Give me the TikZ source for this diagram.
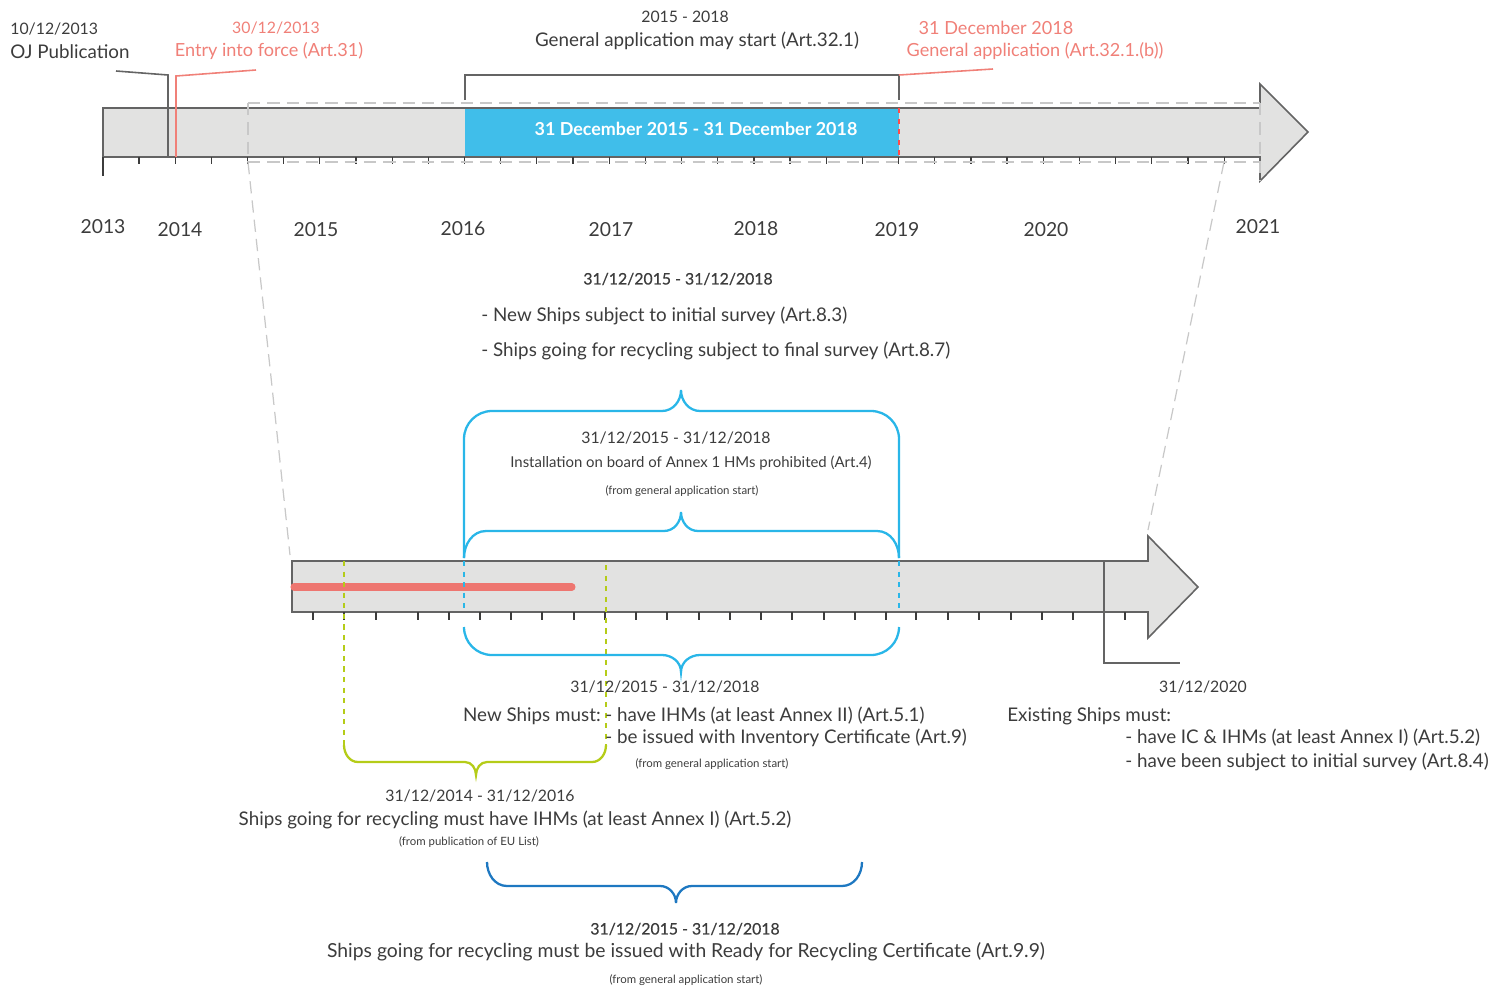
\documentclass[tikz,border=0pt]{standalone}
\usepackage{fontspec}
\setmainfont{Lato}
\definecolor{txtgray}{RGB}{60, 60, 60}
\definecolor{linegray}{RGB}{100, 100, 100}
\definecolor{barfill}{RGB}{226, 226, 225}
\definecolor{dashgray}{RGB}{200, 200, 200}
\definecolor{salmon}{RGB}{240, 128, 120}
\definecolor{redbar}{RGB}{238, 118, 112}
\definecolor{appblue}{RGB}{64, 190, 234}
\definecolor{bracecyan}{RGB}{41, 182, 232}
\definecolor{bracedark}{RGB}{30, 120, 193}
\definecolor{limegreen}{RGB}{181, 204, 24}
\usetikzlibrary{calc}

\begin{document}
\begin{tikzpicture}[x=0.02cm, y=-0.02cm,
  lbl/.style={font=\fontsize{10.7}{12}\selectfont, text=txtgray, inner sep=0pt},
  redlbl/.style={font=\fontsize{10.3}{12}\selectfont, text=salmon, inner sep=0pt},
  datelbl/.style={font=\fontsize{9}{11}\selectfont, text=txtgray, inner sep=0pt},
  reddate/.style={font=\fontsize{9}{11}\selectfont, text=salmon, inner sep=0pt},
  boldspan/.style={font=\fontsize{9}{11}\selectfont\addfontfeature{FakeBold=0.6}, text=txtgray, inner sep=0pt},
  smalllbl/.style={font=\fontsize{8.5}{10}\selectfont, text=txtgray, inner sep=0pt},
  tinylbl/.style={font=\fontsize{6.5}{8}\selectfont, text=txtgray, inner sep=0pt},
  yearlbl/.style={font=\fontsize{11}{13}\selectfont, text=txtgray, inner sep=0pt},
  axis/.style={draw=linegray, line width=0.9pt, fill=barfill},
  tick/.style={draw=txtgray, line width=0.7pt},
  leader/.style={draw=linegray, line width=0.9pt},
  redleader/.style={draw=salmon, line width=0.9pt},
  zoomline/.style={draw=dashgray, dashed, dash pattern=on 7pt off 4pt, line width=0.7pt},
  cyanbrace/.style={draw=bracecyan, line width=1.3pt},
  darkbrace/.style={draw=bracedark, line width=1.3pt},
  greenbrace/.style={draw=limegreen, line width=1.3pt}]

  \useasboundingbox (0,0) rectangle (1504,987);

  % Top timeline
  \draw[axis] (103,108) -- (1260,108) -- (1260,84) -- (1308,132) -- (1260,181) -- (1260,157) -- (103,157) -- cycle;
  \fill[appblue] (465,108) rectangle (899,157);
  \draw[linegray, line width=0.9pt] (465,108) -- (899,108) (465,157) -- (899,157);
  \draw[red!70, dashed, line width=0.6pt] (899,108) -- (899,157);
  \node[font=\fontsize{10.2}{12}\selectfont\bfseries, text=white] (appspan) at (696,129) {31 December 2015 - 31 December 2018};
  \draw[tick] (103,157) -- (103,176);
  \foreach \i in {0,...,30}
    \draw[tick] ({139+36.17*\i},157) -- ({139+36.17*\i},164);

  % Zoomed window
  \draw[zoomline] (248,103) -- (1260,103) (248,162) -- (1260,162) (248,103) -- (248,162) (1260,103) -- (1260,181);
  \coordinate (zoomL) at (248,162);
  \coordinate (zoomR) at (1224,162);
  \coordinate (lowL) at (290,555);
  \coordinate (lowR) at (1148,530);
  \draw[zoomline] (zoomL) -- (lowL);
  \draw[zoomline] (zoomR) -- (lowR);

  % Years
  \node[yearlbl] (y2013) at (103,227) {2013};
  \node[yearlbl] (y2014) at (180,230) {2014};
  \node[yearlbl] (y2015) at (316,230) {2015};
  \node[yearlbl] (y2016) at (463,229) {2016};
  \node[yearlbl] (y2017) at (611,230) {2017};
  \node[yearlbl] (y2018) at (756,229) {2018};
  \node[yearlbl] (y2019) at (897,230) {2019};
  \node[yearlbl] (y2020) at (1046,230) {2020};
  \node[yearlbl] (y2021) at (1258,227) {2021};

  % Milestones above
  \node[datelbl, anchor=west] (ojdate) at (10,29) {10/12/2013};
  \node[lbl, anchor=west] (ojpub) at (10,52) {OJ Publication};
  \node[reddate] (forcedate) at (276,28) {30/12/2013};
  \node[redlbl] (force) at (269,51) {Entry into force (Art.31)};
  \node[datelbl] (mayspan) at (685,17) {2015 - 2018};
  \node[lbl] (may) at (697,41) {General application may start (Art.32.1)};
  \node[redlbl] (gendate) at (996,28) {31 December 2018};
  \node[redlbl] (gen) at (1035,51) {General application (Art.32.1.(b))};

  \coordinate (ojend) at (116,71);
  \coordinate (forceend) at (256,70);
  \coordinate (genend) at (993,69);
  \draw[leader] (ojend) -- (168,75) -- (168,157);
  \draw[redleader] (forceend) -- (176,76) -- (176,157);
  \draw[leader] (465,100) -- (465,75) -- (899,75) -- (899,100);
  \draw[redleader] (899,75) -- (genend);

  % Middle text
  \node[boldspan] (midspan) at (678,279) {31/12/2015 - 31/12/2018};
  \node[lbl, anchor=west] (initial) at (481,316) {- New Ships subject to initial survey (Art.8.3)};
  \node[lbl, anchor=west] (final) at (481,351) {- Ships going for recycling subject to final survey (Art.8.7)};

  % Lower timeline
  \draw[axis] (292,561) -- (1148,561) -- (1148,536) -- (1198,587) -- (1148,638) -- (1148,612) -- (292,612) -- cycle;
  \draw[line cap=round, draw=redbar, line width=4pt] (294,587) -- (572,587);
  \foreach \t in {313,344,376,418,449,480,511,542,574,605,636,667,699,730,761,792,824,855,886,916,948,979,1011,1042,1073,1104,1125}
    \draw[tick] (\t,612) -- (\t,620);
  \draw[leader] (1104,561) -- (1104,663) -- (1180,663);
  \draw[bracecyan, dashed, line width=0.8pt] (464,561) -- (464,612) (899,561) -- (899,612);
  \draw[limegreen, dashed, line width=0.8pt] (344,561) -- (344,745) (606,565) -- (606,745);

  % Braces around lower timeline
  \draw[cyanbrace] (464,558) -- (464,439) to[out=90,in=180] (492,411) -- (662,411)
    to[out=0,in=-90] (681,390) to[out=-90,in=180] (700,411) -- (871,411)
    to[out=0,in=90] (899,439) -- (899,558);
  \draw[cyanbrace] (464,558) to[out=90,in=180] (486,531) -- (664,531)
    to[out=0,in=-90] (681,512) to[out=-90,in=180] (698,531) -- (877,531)
    to[out=0,in=90] (899,558);
  \draw[cyanbrace] (464,627) to[out=-90,in=180] (492,655) -- (662,655)
    to[out=0,in=90] (681,672) to[out=90,in=180] (700,655) -- (871,655)
    to[out=0,in=-90] (899,627);
  \draw[greenbrace] (344,745) to[out=-90,in=180] (358,762) -- (465,762)
    to[out=0,in=90] (476,775) to[out=90,in=180] (487,762) -- (592,762)
    to[out=0,in=-90] (606,745);
  \draw[darkbrace] (487,862) to[out=-90,in=180] (507,886) -- (660,886)
    to[out=0,in=90] (676,903) to[out=90,in=180] (692,886) -- (842,886)
    to[out=0,in=-90] (862,862);

  % Installation block
  \node[datelbl] (instspan) at (676,438) {31/12/2015 - 31/12/2018};
  \node[smalllbl] (inst) at (691,463) {Installation on board of Annex 1 HMs prohibited (Art.4)};
  \node[tinylbl] (instnote) at (682,491) {(from general application start)};

  % New ships block
  \node[datelbl] (newspan) at (665,687) {31/12/2015 - 31/12/2018};
  \node[lbl, anchor=east] (newships) at (601,716) {New Ships must:};
  \node[lbl, anchor=west] (newihm) at (605,716) {- have IHMs (at least Annex II) (Art.5.1)};
  \node[lbl, anchor=west] (newic) at (605,738) {- be issued with Inventory Certificate (Art.9)};
  \node[tinylbl] (newnote) at (712,764) {(from general application start)};

  % Recycling IHM block
  \node[datelbl] (recspan) at (480,796) {31/12/2014 - 31/12/2016};
  \node[lbl] (recihm) at (515,820) {Ships going for recycling must have IHMs (at least Annex I) (Art.5.2)};
  \node[tinylbl] (recnote) at (469,842) {(from publication of EU List)};

  % Existing ships block
  \node[datelbl] (exdate) at (1203,687) {31/12/2020};
  \node[lbl, anchor=west] (exships) at (1007,716) {Existing Ships must:};
  \node[lbl, anchor=west] (exic) at (1125,738) {- have IC \& IHMs (at least Annex I) (Art.5.2)};
  \node[lbl, anchor=west] (exsurvey) at (1125,762) {- have been subject to initial survey (Art.8.4)};

  % Ready for recycling block
  \node[boldspan] (rfrspan) at (685,929) {31/12/2015 - 31/12/2018};
  \node[font=\fontsize{11}{13}\selectfont, text=txtgray, inner sep=0pt] (rfr) at (686,952) {Ships going for recycling must be issued with Ready for Recycling Certificate (Art.9.9)};
  \node[tinylbl] (rfrnote) at (686,980) {(from general application start)};
\end{tikzpicture}
\end{document}
